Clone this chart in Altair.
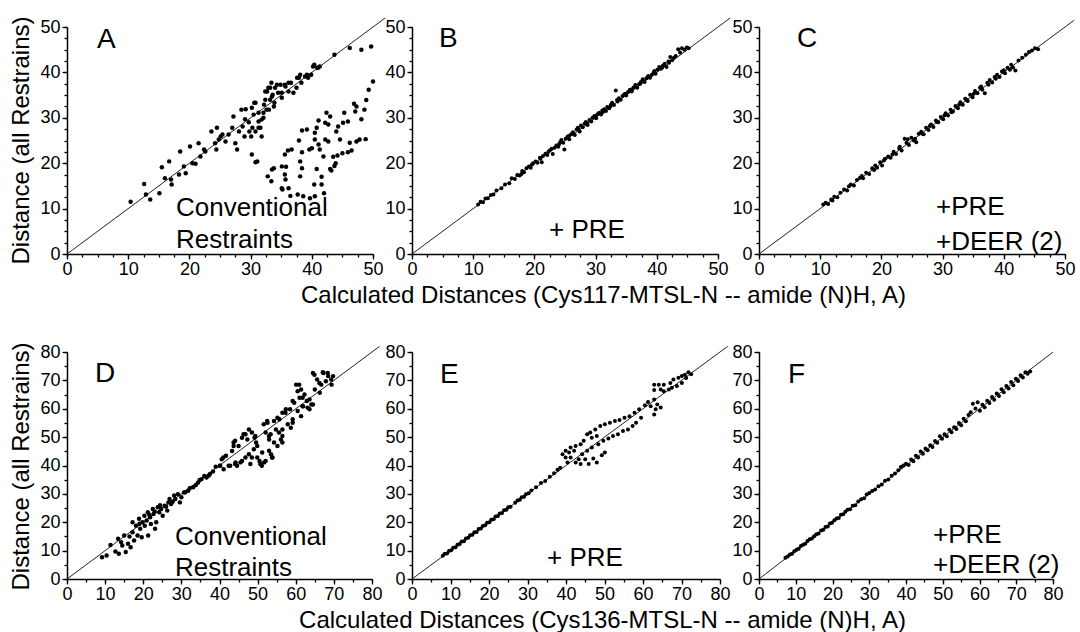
import altair as alt
import pandas as pd

FONT = "Liberation Sans"

# ---------------- data ----------------
A_PTS = [(10.4,11.5),(12.6,15.4),(12.9,13.1),(13.6,12.0),(15.1,13.4),(15.5,19.1),(16.0,16.7),(16.7,20.4),(17.0,16.4),(17.1,15.3),
 (18.5,22.6),(18.3,17.5),(19.1,19.3),(19.4,17.8),(20.1,23.7),(20.5,20.0),(21.0,19.9),(21.5,24.4),(21.8,21.5),(22.4,23.0),
 (22.6,22.6),(23.6,27.0),(24.2,24.4),(24.4,23.0),(24.5,27.8),(24.8,25.2),(25.1,25.9),(25.4,26.3),(25.9,24.8),(26.4,26.3),
 (27.0,27.8),(27.2,30.3),(27.5,24.4),(27.8,23.0),(28.1,27.0),(28.5,31.8),(28.7,28.1),(29.0,25.9),(29.1,29.7),(29.2,31.9),
 (29.7,29.0),(29.8,27.0),(30.1,25.9),(30.3,27.8),(30.5,30.7),(30.6,33.3),(30.8,27.0),(30.2,21.9),(30.8,20.2),(31.3,29.2),
 (31.6,27.8),(31.8,25.9),(32.1,30.0),(32.2,32.9),(32.4,35.8),(32.6,31.8),(32.9,36.6),(33.2,34.0),(33.4,37.7),(33.6,35.1),
 (33.9,33.3),(34.3,37.3),(34.5,35.5),(35.1,34.4),(35.6,37.3),(36.2,35.8),(36.6,37.7),(37.0,35.5),(37.5,36.6),(37.9,38.8),
 (38.3,37.7),(38.9,39.1),(39.4,38.8),(39.9,39.5),(40.4,41.7),(41.0,41.0),(43.7,43.9),(46.2,45.4),(48.1,45.0),(49.7,45.7),
 (41.3,41.3),(40.9,41.0),(40.2,41.3),(39.2,39.5),(38.1,39.5),(37.6,38.8),(36.2,37.7),(35.7,36.9),(34.9,37.3),(34.0,36.6),
 (33.2,36.6),(32.7,35.8),(35.1,35.5),(33.5,34.7),(32.4,34.0),(33.8,32.5),(33.0,31.8),(32.1,31.1),(31.3,31.1),(30.8,33.3),
 (30.2,32.2),(31.8,29.6),(31.3,27.8),(31.1,20.4),
 (50.0,38.0),(49.3,36.2),(48.9,33.9),(48.6,31.8),(47.3,32.5),(46.9,33.1),(47.1,31.4),(48.1,29.7),(45.3,31.1),(45.1,28.9),
 (45.9,29.2),(44.3,28.1),(44.0,27.0),(43.0,30.3),(42.7,28.5),(42.4,31.1),(41.1,29.4),(40.8,27.8),(40.5,26.7),(42.2,25.2),
 (42.7,24.8),(44.6,25.2),(46.2,24.5),(47.3,24.8),(47.8,25.2),(48.8,25.3),(46.5,22.8),(45.9,22.4),(45.0,22.2),(44.2,21.7),
 (43.5,21.4),(43.9,20.0),(43.7,19.4),(43.0,18.7),(43.2,18.4),(41.9,21.5),(41.6,17.0),(40.8,18.7),(41.6,15.3),(42.0,13.4),
 (40.4,15.3),(40.5,12.7),(39.7,12.3),(38.6,12.7),(37.7,13.1),(41.3,23.0),(41.1,24.1),(40.0,23.3),(39.6,23.0),(40.5,25.2),
 (42.2,28.9),(39.2,27.4),(38.4,27.2),(37.9,25.0),(36.7,23.0),(36.1,22.8),(35.6,21.9),(38.4,22.4),(38.1,20.4),(38.4,18.9),
 (38.1,17.1),(35.8,19.2),(35.1,19.3),(33.8,18.9),(33.5,18.6),(35.6,17.5),(35.7,16.4),(32.8,17.1),(33.4,16.0),(35.1,14.5),
 (36.2,14.5),(36.5,12.8),(35.2,14.2)]

B_PTS = [(10.8,10.9),(11.2,11.5),(11.6,11.4),(12.0,12.2),(12.4,12.3),(12.9,13.0),(13.3,13.1),(13.8,14.0),(14.6,14.5),(15.2,15.3),
 (15.9,15.6),(16.3,16.7),(16.8,16.5),(17.2,17.4),(17.6,17.3),(18.0,18.3),(18.3,18.0),(18.7,18.9),(19.1,19.3),(19.4,19.0),
 (19.8,20.0),(20.2,20.4),(20.5,20.1),(20.9,21.2),(21.2,20.2),(21.4,21.6),(21.8,22.1),(22.1,21.8),(22.5,22.8),(22.8,23.2),
 (23.0,22.0),(23.3,23.4),(23.6,23.9),(23.9,23.6),(24.2,24.6),(24.4,25.1),(24.7,24.5),(24.9,23.0),(25.1,25.4),(25.4,25.8),
 (25.7,25.3),(26.0,26.4),(26.3,26.8),(26.6,26.2),(26.9,27.4),(27.1,27.8),(27.4,27.0),(27.6,28.3),(27.9,27.9),(28.2,28.7),
 (28.4,29.1),(28.7,28.4),(29.0,29.5),(29.3,29.2),(29.5,30.0),(29.8,30.4),(30.1,29.9),(30.3,30.8),(30.6,31.1),(30.9,30.7),
 (31.1,31.6),(31.4,31.9),(31.7,31.5),(31.9,32.4),(32.2,32.1),(32.5,32.9),(32.7,33.3),(33.0,32.8),(33.3,36.0),(33.5,33.9),
 (33.8,34.3),(34.1,34.0),(34.4,34.8),(34.7,35.2),(35.0,34.9),(35.3,35.7),(35.6,36.2),(35.9,35.8),(36.2,36.7),(36.5,37.2),
 (36.8,36.6),(37.1,37.4),(37.4,37.9),(37.7,38.5),(38.0,37.9),(38.3,38.7),(38.6,39.2),(38.9,38.8),(39.2,39.5),(39.5,40.0),
 (39.8,39.7),(40.1,40.6),(40.4,41.2),(40.7,40.8),(41.0,41.5),(41.3,41.9),(41.6,41.2),(41.9,42.4),(42.2,43.4),(42.5,42.7),
 (42.8,43.2),(43.1,43.6),(43.5,45.1),(43.8,44.4),(44.1,45.3),(44.5,45.0),(44.9,45.5),(45.2,45.3),
 (17.9,17.6),(19.6,19.7),(21.0,21.0),(22.3,22.5),(24.0,24.1),(25.6,26.0),(27.2,27.4),(28.6,28.8),(29.9,30.1),(31.2,31.3),
 (32.4,32.5),(33.6,33.6),(34.9,35.3),(36.0,36.3),(37.3,37.5),(38.5,38.9),(39.6,40.3),(40.9,41.1),(42.0,42.1)]

C_PTS = [(10.5,10.9),(10.9,11.3),(11.3,11.0),(11.8,12.0),(12.3,12.6),(12.8,12.5),(13.3,13.5),(13.9,14.2),(14.4,14.0),(15.0,15.3),
 (15.5,15.1),(16.0,16.3),(16.5,16.8),(17.0,16.7),(17.5,17.9),(18.0,17.6),(18.5,18.9),(19.0,19.5),(19.3,19.0),(19.8,20.2),
 (20.1,19.5),(20.6,21.0),(21.1,21.5),(21.5,21.2),(22.0,22.5),(22.4,22.0),(22.9,23.3),(23.3,22.8),(23.8,25.4),(24.1,24.5),
 (24.5,24.0),(24.9,25.6),(25.3,25.0),(25.7,24.6),(26.1,26.5),(26.5,26.9),(26.9,26.4),(27.3,27.8),(27.7,27.3),(28.1,28.5),
 (28.5,28.0),(28.9,29.4),(29.3,29.0),(29.7,30.2),(30.1,29.7),(30.5,31.0),(30.9,30.5),(31.3,31.8),(31.7,31.4),(32.1,32.6),
 (32.5,32.1),(32.9,33.4),(33.3,32.9),(33.7,34.2),(34.1,33.7),(34.5,35.1),(34.9,34.5),(35.3,35.9),(35.7,35.4),(36.1,36.6),
 (36.5,36.2),(36.9,35.4),(37.3,37.7),(37.7,38.3),(38.1,37.8),(38.5,39.0),(38.9,39.5),(39.3,39.0),(39.7,40.2),(40.2,39.8),
 (40.6,41.0),(41.0,40.6),(41.5,41.1),(41.9,40.4),(42.4,42.6),(43.0,43.2),(43.6,43.9),(44.1,44.5),(44.6,44.8),(45.1,45.3),
 (45.6,45.1),
 (12.0,11.8),(14.7,14.9),(16.8,17.2),(18.8,18.5),(20.4,20.6),(21.8,21.9),(23.0,23.6),(24.3,25.3),(25.5,25.4),(26.7,26.5),
 (27.9,28.2),(29.1,29.1),(30.3,30.5),(31.5,31.2),(32.7,32.9),(33.9,34.0),(35.1,35.3),(36.3,36.9),(37.5,37.3),(38.7,38.6),
 (40.0,40.5),(41.2,41.7)]

D_PTS = [(9.2,7.7),(10.4,8.3),(11.4,12.0),(12.7,9.7),(13.6,8.9),(13.4,14.2),(14.5,11.8),(15.0,15.3),(15.4,9.5),(16.0,12.4),
 (16.7,11.2),(17.2,16.5),(17.2,20.0),(17.6,13.6),(18.1,18.8),(18.5,15.3),(18.9,21.2),(19.2,17.7),(19.6,14.7),(19.8,20.0),
 (20.3,22.3),(20.4,18.8),(20.9,20.6),(21.2,23.5),(21.3,15.3),(21.8,21.8),(22.0,19.4),(22.5,24.7),(22.7,22.9),(23.1,17.7),
 (23.4,20.0),(23.8,25.3),(24.2,23.5),(24.7,24.7),(25.1,22.3),(25.6,25.8),(26.3,24.1),(26.6,27.0),(26.9,28.2),(27.3,26.4),
 (28.1,29.4),(28.4,28.2),(29.1,29.9),(29.6,27.0),(30.0,28.8),(30.7,30.5),(31.8,31.1),(33.1,32.3),(34.4,34.0),(35.3,35.2),
 (36.6,35.8),(37.5,37.0),(40.2,39.9),(40.6,42.2),(41.1,38.7),(41.7,43.4),(42.4,39.9),(43.3,45.1),(43.7,48.1),(44.2,41.1),
 (44.6,39.9),(45.0,46.9),(45.5,41.1),(45.9,49.8),(46.8,51.0),(47.3,49.2),(47.7,44.0),(48.1,40.5),(49.0,45.7),(49.2,49.8),
 (49.6,48.1),(49.9,42.8),(50.5,41.6),(51.1,39.9),(51.7,41.1),(52.1,51.6),(52.6,55.1),(53.0,50.4),(53.5,44.0),(53.9,42.8),
 (54.3,48.1),(54.8,52.7),(55.7,56.3),(56.1,49.2),(56.5,52.7),(57.3,58.6),(57.9,54.5),(58.5,59.8),(59.2,56.3),(59.6,62.1),
 (60.1,68.5),(60.5,59.2),(61.0,63.9),(61.4,66.8),(61.9,60.9),(62.3,65.0),(62.9,62.7),(63.6,59.8),(64.1,61.5),(64.5,72.6),
 (65.0,66.8),(65.6,70.3),(66.3,65.6),(66.7,68.5),(67.3,72.6),(67.9,69.7),(68.5,71.5),(69.4,68.5),(69.8,71.5),
 (64.9,72.0),(67.1,72.9),(68.4,72.6),(69.3,70.3),(66.2,69.1),(60.9,68.5),(60.5,66.2),(61.8,63.9),(63.6,63.3),(64.5,61.5),
 (59.2,62.7),(61.8,60.9),(63.1,60.4),(57.4,59.8),(56.5,58.6),(61.4,57.4),(59.2,55.1),(58.7,53.3),(55.2,56.8),(54.3,55.7),
 (52.5,55.7),(51.6,54.5),(55.6,51.6),(56.5,50.4),(53.4,51.0),(53.0,49.2),(56.5,48.1),(55.2,46.9),(48.5,51.6),(47.7,52.7),
 (46.3,51.0),(49.4,50.4),(44.1,48.7),(43.7,46.9),(49.9,46.9),(51.2,44.6),(53.0,45.2),(53.8,42.8),(52.1,41.6),(50.7,40.5),
 (48.5,42.8),(46.8,42.8),(45.9,41.6),(44.1,40.5),(42.8,39.9),(41.0,42.8),(40.1,39.9),
 (31.0,30.6),(32.2,32.0),(33.8,33.1),(34.8,34.9),(36.0,36.3),(37.2,36.5),(38.3,37.9),(39.0,39.6),(14.2,13.0),(16.4,15.0),
 (19.0,19.5),(21.6,22.6),(23.0,23.8),(24.4,26.0),(26.0,25.5),(27.7,27.2)]

E_PTS = [(8.0,8.2),(8.5,8.9),(9.1,9.0),(9.6,9.9),(10.2,10.1),(10.7,11.0),(11.3,11.2),(11.8,12.1),(12.4,12.3),(12.9,13.2),
 (13.5,13.3),(14.0,14.3),(14.6,14.5),(15.1,15.4),(15.7,15.6),(16.2,16.5),(16.8,16.6),(17.3,17.6),(17.9,17.8),(18.4,18.7),
 (19.0,18.9),(19.5,19.8),(20.1,20.0),(20.6,20.9),(21.2,21.1),(21.7,22.0),(22.3,22.2),(22.8,23.1),(23.4,23.3),(23.9,24.2),
 (24.5,24.4),(25.0,25.3),(25.6,25.5),(26.8,26.9),(27.4,27.7),(28.0,27.9),(28.5,28.8),(29.1,29.0),(29.6,29.9),(30.3,30.2),
 (31.0,31.2),(32.2,32.3),(33.5,33.8),(34.6,34.5),(35.8,36.0),(36.9,37.3),(37.8,38.5),(38.5,39.2),
 (62.9,68.5),(64.1,68.5),(65.4,68.5),(62.9,66.6),(64.6,66.8),(65.4,66.2),(62.9,63.3),(63.7,61.5),(63.3,59.8),(62.9,58.0),
 (64.6,60.4),(62.0,60.9),(67.1,69.1),(67.9,70.3),(69.2,70.9),(70.1,71.5),(70.9,72.0),(71.8,72.9),(66.7,66.8),(67.5,67.4),
 (68.8,68.0),(70.1,69.1),(59.0,59.8),(57.8,58.6),(56.5,57.4),(55.2,56.8),(53.9,56.0),(52.7,55.7),(51.4,55.1),(50.1,54.5),
 (48.9,53.9),(47.6,52.7),(46.3,51.6),(45.5,51.0),(48.0,50.4),(46.7,49.8),(44.6,48.7),(43.8,47.5),(42.5,46.9),(41.2,46.3),
 (39.9,45.2),(39.1,44.0),(40.8,44.6),(42.1,45.2),(59.5,56.8),(58.2,55.1),(57.3,53.9),(56.1,52.7),(54.8,52.2),(53.5,51.0),
 (52.2,50.4),(51.0,49.5),(49.7,48.7),(48.4,47.5),(46.7,46.3),(45.5,45.2),(44.2,44.0),(43.3,42.2),(42.5,41.1),(43.8,40.5),
 (45.0,42.2),(45.9,40.5),(47.1,42.5),(48.0,41.1),(49.3,43.6),(50.1,44.6),(41.2,42.8),(40.4,41.1),(39.9,42.8),(60.5,61.2),
 (61.3,62.4),(72.5,72.2),(71.2,70.8)]

F_PTS = [(7.2,7.5),(7.8,7.9),(8.4,8.6),(9.0,8.9),(9.6,9.8),(10.2,10.3),(10.8,10.7),(11.4,11.6),(12.0,12.1),(12.6,12.4),
 (13.2,13.4),(13.8,14.0),(14.4,14.3),(15.0,15.1),(15.6,15.8),(16.2,16.0),(16.9,17.1),(17.5,17.4),(18.1,18.3),(18.7,18.5),
 (19.3,19.6),(19.9,19.8),(20.5,20.7),(21.1,21.3),(21.7,21.5),(22.3,22.6),(22.9,22.8),(23.5,23.7),(24.1,24.4),(24.8,24.6),
 (25.5,25.8),(26.2,26.0),(27.0,27.3),(27.8,28.1),(28.6,28.5),(29.3,29.8),(30.0,30.3),(30.8,31.0),(31.6,31.5),(32.5,32.7),
 (33.4,33.3),(34.3,34.6),(35.2,35.1),(36.1,36.4),(37.0,37.2),(37.9,38.3),(38.6,39.5),(39.3,40.0),(40.0,40.6),(40.7,40.2),
 (41.4,42.1),(42.0,41.5),(42.7,43.4),(43.3,42.8),(44.0,44.9),(44.6,44.1),(45.3,46.0),(45.9,45.4),(46.6,47.1),(47.2,46.5),
 (47.9,48.6),(48.5,48.0),(49.2,50.3),(49.8,49.4),(50.5,51.0),(51.1,50.3),(51.8,52.6),(52.4,51.7),(53.1,53.5),(53.7,52.9),
 (54.4,55.0),(55.0,54.2),(55.7,56.5),(56.3,55.6),(57.0,57.8),(57.6,58.8),(58.2,61.8),(58.9,60.1),(59.5,62.3),(60.1,59.3),
 (60.8,61.4),(61.4,60.5),(62.1,62.8),(62.7,62.0),(63.4,64.1),(64.0,63.2),(64.7,65.4),(65.3,64.5),(66.0,66.9),(66.6,65.8),
 (67.3,68.0),(67.9,67.1),(68.6,69.4),(69.2,68.3),(69.9,70.6),(70.5,69.8),(71.2,71.8),(71.8,71.0),(72.5,72.9),(73.1,72.3),
 (73.8,73.1)]

MAJOR_50 = [0, 10, 20, 30, 40, 50]
MINOR_50 = [0, 2.5, 5, 7.5, 10, 12.5, 15, 17.5, 20, 22.5, 25, 27.5, 30, 32.5, 35, 37.5, 40, 42.5, 45, 47.5, 50]
MAJOR_80 = [0, 10, 20, 30, 40, 50, 60, 70, 80]
MINOR_80 = [0, 5, 10, 15, 20, 25, 30, 35, 40, 45, 50, 55, 60, 65, 70, 75, 80]

TITLE_Y = "Distance (all Restrains)"
TITLE_X1 = "Calculated Distances (Cys117-MTSL-N -- amide (N)H, A)"
TITLE_X2 = "Calculated Distances (Cys136-MTSL-N -- amide (N)H, A)"


def panel(pts, vmax, major, minor, line_end, w, h, texts, size,
          ytitle=None, ytitle_y=None, xtitle=None, xtitle_x=None):
    df = pd.DataFrame(pts, columns=["x", "y"])
    sc = alt.Scale(domain=[0, vmax], nice=False, zero=False)
    ax_minor = dict(values=minor, labels=False, domain=False, tickSize=3, title=None,
                    grid=False)
    pts_layer = alt.Chart(df).mark_circle(size=size, color="black", opacity=1).encode(
        x=alt.X("x:Q", scale=sc, axis=alt.Axis(orient="bottom", **ax_minor)),
        y=alt.Y("y:Q", scale=sc, axis=alt.Axis(orient="left", **ax_minor)),
    )
    xaxis_kw = dict(orient="bottom", values=major, tickSize=5, grid=False, labelPadding=1,
                    labelFlush=False, labelOverlap=False)
    yaxis_kw = dict(orient="left", values=major, tickSize=5, grid=False, labelPadding=2,
                    labelFlush=False, labelOverlap=False)
    if xtitle:
        xaxis_kw.update(title=xtitle, titleX=xtitle_x, titleY=48, titleBaseline="alphabetic",
                        titleAlign="center", titleAnchor="start")
    else:
        xaxis_kw.update(title=None)
    if ytitle:
        yaxis_kw.update(title=ytitle, titleX=-39, titleY=ytitle_y, titleBaseline="alphabetic",
                        titleAlign="center", titleAngle=270, titleAnchor="start")
    else:
        yaxis_kw.update(title=None)
    ldf = pd.DataFrame({"x": [0], "y": [0], "x2": [line_end], "y2": [line_end]})
    line = alt.Chart(ldf).mark_rule(color="#222", strokeWidth=1).encode(
        x=alt.X("x:Q", scale=sc, axis=alt.Axis(**xaxis_kw)),
        y=alt.Y("y:Q", scale=sc, axis=alt.Axis(**yaxis_kw)),
        x2="x2:Q", y2="y2:Q",
    )
    layers = [line, pts_layer]
    for (t, px, py, fs) in texts:
        tdf = pd.DataFrame({"t": [t]})
        layers.append(alt.Chart(tdf).mark_text(align="left", baseline="alphabetic", font=FONT,
                                               fontSize=fs, color="black").encode(
            x=alt.value(px), y=alt.value(py), text="t:N"))
    return alt.layer(*layers).resolve_axis(x="independent", y="independent").properties(
        width=w, height=h)


LET = 28
NOTE = 26
pA = panel(A_PTS, 50, MAJOR_50, MINOR_50, 52, 306, 227,
           [("A", 30, 21, LET), ("Conventional", 109, 189, NOTE), ("Restraints", 109, 221, NOTE)], 20,
           ytitle=TITLE_Y, ytitle_y=113)
pB = panel(B_PTS, 50, MAJOR_50, MINOR_50, 52, 306, 227,
           [("B", 27, 20, LET), ("+ PRE", 137, 211, NOTE)], 16,
           xtitle=TITLE_X1, xtitle_x=191)
pC = panel(C_PTS, 50, MAJOR_50, MINOR_50, 51.5, 306, 227,
           [("C", 38, 20, LET), ("+PRE", 177, 188, NOTE), ("+DEER (2)", 177, 223, NOTE)], 16)

pD = panel(D_PTS, 80, MAJOR_80, MINOR_80, 82, 305, 227,
           [("D", 28, 30, LET), ("Conventional", 108, 193, NOTE), ("Restraints", 108, 224, NOTE)], 20,
           ytitle=TITLE_Y, ytitle_y=114)
pE = panel(E_PTS, 80, MAJOR_80, MINOR_80, 82, 308, 227,
           [("E", 28, 31, LET), ("+ PRE", 135, 214, NOTE)], 16,
           xtitle=TITLE_X2, xtitle_x=190)
pF = panel(F_PTS, 80, MAJOR_80, MINOR_80, 80, 294, 227,
           [("F", 29, 31, LET), ("+PRE", 174, 191, NOTE), ("+DEER (2)", 174, 221, NOTE)], 16)

chart = alt.concat(pA, pB, pC, pD, pE, pF, columns=3,
                   spacing={"row": 98, "column": 39}, bounds="flush").properties(
    padding={"left": 8, "top": 15, "right": 0, "bottom": 0},
    background="white",
).configure_view(stroke=None).configure_axis(
    labelFont=FONT, labelFontSize=18, labelColor="black",
    titleFont=FONT, titleFontSize=24, titleColor="black", titleFontWeight="normal",
    domainColor="black", domainWidth=1.5, tickColor="black", tickWidth=1.3,
)

chart.save("out.html", embed_options={"renderer": "svg", "actions": False})
